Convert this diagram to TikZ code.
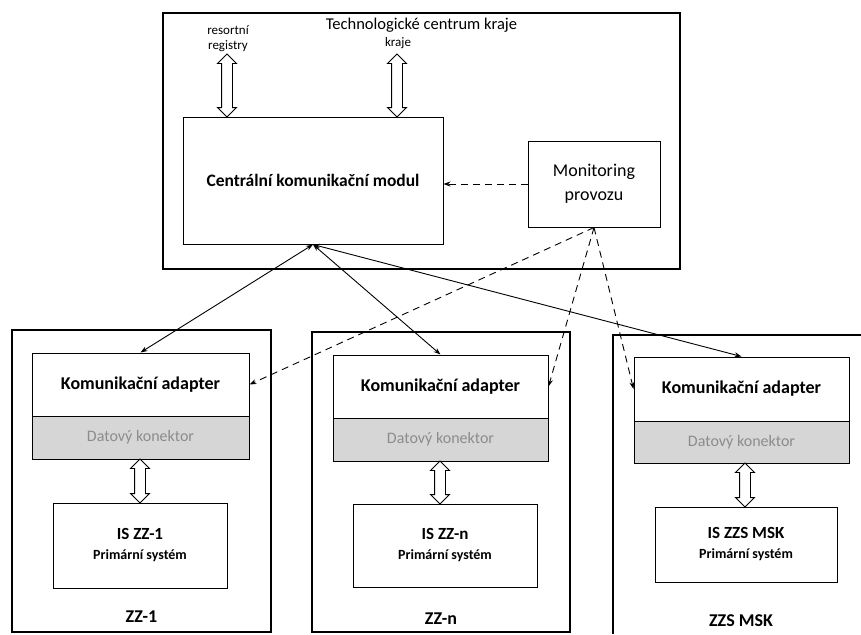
\documentclass[tikz,border=0pt]{standalone}
\usepackage{fontspec}
\setmainfont{Carlito}
\usetikzlibrary{arrows.meta,shapes.arrows}
\begin{document}
\begin{tikzpicture}[x=1pt,y=-1pt,
  box/.style={draw, line width=1pt, inner sep=0pt},
  outerbox/.style={draw, line width=1.1pt, inner sep=0pt},
  adapt/.style={box, fill=white, font=\bfseries\fontsize{18}{20}\selectfont},
  conn/.style={box, fill=black!16, text=black!45, font=\fontsize{16}{18}\selectfont},
  isbox/.style={box, fill=white, align=center, font=\bfseries\fontsize{14}{20}\selectfont},
  zzlabel/.style={font=\bfseries\fontsize{18}{20}\selectfont},
  dbl/.style={double arrow, draw, line width=0.9pt, fill=white, shape border rotate=90,
    minimum width=18pt, double arrow head extend=4pt, inner sep=5pt},
  link/.style={line width=0.9pt, {Stealth[length=7pt,width=5pt]}-{Stealth[length=7pt,width=5pt]}},
  monlink/.style={line width=0.9pt, dash pattern=on 7pt off 5pt, -{Stealth[length=7pt,width=5pt]}},
]
\useasboundingbox (0,0) rectangle (861,634);

% top part
\node[outerbox, minimum width=517pt, minimum height=256pt] (tc) at (421.5,141) {};
\node[font=\fontsize{16.5}{20}\selectfont] (tctitle) at (421.5,25) {Technologické centrum kraje};
\node[box, minimum width=260pt, minimum height=127pt, font=\bfseries\fontsize{17.5}{20}\selectfont] (central) at (313,180.5) {Centrální komunikační modul};
\node[box, minimum width=132pt, minimum height=86pt, align=center, font=\fontsize{18}{24}\selectfont] (mon) at (594,184) {Monitoring\\provozu};
\node[align=center, font=\fontsize{13}{15}\selectfont] (res) at (228,39) {resortní\\registry};
\node[font=\fontsize{13}{15}\selectfont] (kraje) at (398,43) {kraje};
\node[dbl, minimum height=63pt] (dres) at (227,85.5) {};
\node[dbl, minimum height=63pt] (dkraje) at (397,85.5) {};

% ZZ-1
\node[outerbox, minimum width=259pt, minimum height=302pt] (zz1) at (141.5,481) {};
\node[adapt, minimum width=217pt, minimum height=63pt] (ad1) at (140.5,384.5) {Komunikační adapter};
\node[conn, minimum width=217pt, minimum height=43pt] (dk1) at (140.5,437.5) {Datový konektor};
\node[isbox, minimum width=174pt, minimum height=85pt] (is1) at (140,545.5) {{\fontsize{17}{20}\selectfont IS ZZ-1}\\Primární systém};
\node[zzlabel] (lzz1) at (141.5,617) {ZZ-1};
\node[dbl, minimum height=44pt] (dz1) at (140,481) {};

% ZZ-n
\node[outerbox, minimum width=258pt, minimum height=300pt] (zzn) at (441,482) {};
\node[adapt, minimum width=215pt, minimum height=63pt] (ad2) at (440.5,386.5) {Komunikační adapter};
\node[conn, minimum width=215pt, minimum height=43pt] (dk2) at (440.5,439.5) {Datový konektor};
\node[isbox, minimum width=184pt, minimum height=83pt] (is2) at (445,545.5) {{\fontsize{17}{20}\selectfont IS ZZ-n}\\Primární systém};
\node[zzlabel] (lzzn) at (441,619) {ZZ-n};
\node[dbl, minimum height=43pt] (dz2) at (440,482.5) {};

% ZZS MSK
\draw[line width=1.1pt] (861,335) -| (613,634);
\node[adapt, minimum width=215pt, minimum height=64pt] (ad3) at (741.5,389) {Komunikační adapter};
\node[conn, minimum width=215pt, minimum height=42pt] (dk3) at (741.5,442) {Datový konektor};
\node[isbox, minimum width=182pt, minimum height=75pt] (is3) at (746,544.5) {{\fontsize{17}{20}\selectfont IS ZZS MSK}\\Primární systém};
\node[zzlabel] (lzzs) at (741,621) {ZZS MSK};
\node[dbl, minimum height=44pt] (dz3) at (745,485) {};

% connectors
\draw[link] (central.south) -- (ad1.north);
\draw[link] (central.south) -- (ad2.north);
\draw[link] (central.south) -- (ad3.north);
\draw[monlink] (mon.west) -- (mon.west -| central.east);
\draw[monlink] (mon.south) -- (ad1.east);
\draw[monlink] (mon.south) -- (ad2.east);
\draw[monlink] (mon.south) -- (ad3.west);
\end{tikzpicture}
\end{document}
